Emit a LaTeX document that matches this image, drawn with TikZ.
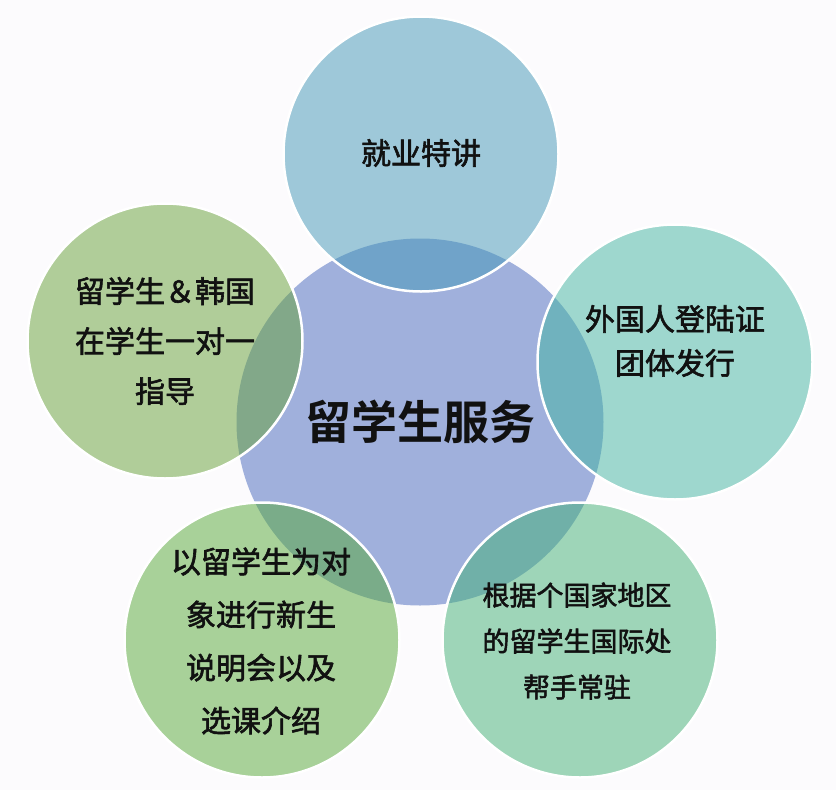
\documentclass[tikz,border=0pt]{standalone}
\usepackage{fontspec}
\newfontfamily\cjk[FakeBold=2]{Noto Sans CJK SC}
\newfontfamily\cjkbold{Noto Sans CJK SC Bold}
\definecolor{bgc}{RGB}{252,251,253}
\definecolor{centerc}{RGB}{160,176,220}
\definecolor{topc}{RGB}{65,151,183}
\definecolor{rightc}{RGB}{65,181,161}
\definecolor{brc}{RGB}{65,177,117}
\definecolor{blc}{RGB}{85,169,55}
\definecolor{leftc}{RGB}{101,161,55}
\definecolor{txt}{RGB}{17,17,17}
\tikzset{
  outer/.style={circle, minimum size=275pt, inner sep=0pt, draw=white, line width=2.5pt, fill opacity=0.5, text opacity=1},
  lbl/.style={text=txt, align=center, inner sep=0pt}
}
\begin{document}
\begin{tikzpicture}[x=1pt,y=-1pt]
\useasboundingbox (0,0) rectangle (836,790);
\fill[bgc] (0,0) rectangle (836,790);
% centre circle
\node[circle, minimum size=367pt, inner sep=0pt, fill=centerc] (core) at (420,422) {};
% outer circles
\node[outer, fill=topc] (top) at (421,154) {};
\node[outer, fill=rightc] (right) at (675,362) {};
\node[outer, fill=brc] (br) at (580,640) {};
\node[outer, fill=blc] (bl) at (262,640) {};
\node[outer, fill=leftc] (left) at (165,341) {};
% labels
\node[lbl, font=\cjkbold\fontsize{46}{50}\selectfont] (tcore) at (420,422) {留学生服务};
\node[lbl, font=\cjk\fontsize{30}{50}\selectfont] (ttop) at (421,153) {就业特讲};
\node[lbl, font=\cjk\fontsize{30}{50}\selectfont] (tleft) at (165,341) {留学生＆韩国\\在学生一对一\\指导};
\node[lbl, font=\cjk\fontsize{30}{44}\selectfont] (tright) at (675,341) {外国人登陆证\\团体发行};
\node[lbl, font=\cjk\fontsize{30}{53}\selectfont] (tbl) at (261,641) {以留学生为对\\象进行新生\\说明会以及\\选课介绍};
\node[lbl, font=\cjk\fontsize{27}{46}\selectfont] (tbr) at (577,641) {根据个国家地区\\的留学生国际处\\帮手常驻};
\end{tikzpicture}
\end{document}
